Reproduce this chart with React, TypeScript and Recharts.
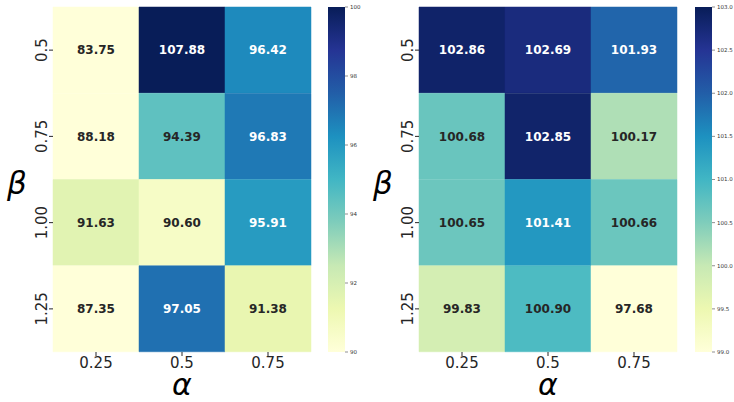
import { Bar, BarChart, Cell, LabelList, XAxis, YAxis } from 'recharts';

const ALPHAS = ['0.25', '0.5', '0.75'];
const BETAS = ['0.5', '0.75', '1.00', '1.25'];

// rows = beta, columns = alpha
const LEFT_VALUES = [
  [83.75, 107.88, 96.42],
  [88.18, 94.39, 96.83],
  [91.63, 90.6, 95.91],
  [87.35, 97.05, 91.38],
];
const RIGHT_VALUES = [
  [102.86, 102.69, 101.93],
  [100.68, 102.85, 100.17],
  [100.65, 101.41, 100.66],
  [99.83, 100.9, 97.68],
];

const LEFT_TICKS = [90, 92, 94, 96, 98, 100];
const RIGHT_TICKS = [99.0, 99.5, 100.0, 100.5, 101.0, 101.5, 102.0, 102.5, 103.0];

// matplotlib YlGnBu
const YLGNBU = ['#ffffd9', '#edf8b1', '#c7e9b4', '#7fcdbb', '#41b6c4', '#1d91c0', '#225ea8', '#253494', '#081d58'];

const FONT = '"DejaVu Sans", sans-serif';

function hexToRgb(h: string) {
  return [1, 3, 5].map((i) => parseInt(h.slice(i, i + 2), 16));
}

function colorAt(v: number, vmin: number, vmax: number) {
  const t = Math.min(1, Math.max(0, (v - vmin) / (vmax - vmin)));
  const pos = t * (YLGNBU.length - 1);
  const i = Math.min(YLGNBU.length - 2, Math.floor(pos));
  const f = pos - i;
  const a = hexToRgb(YLGNBU[i]);
  const b = hexToRgb(YLGNBU[i + 1]);
  const c = a.map((x, k) => Math.round(x + (b[k] - x) * f));
  return `rgb(${c[0]},${c[1]},${c[2]})`;
}

// same rule seaborn uses to pick annotation colour
function textColor(v: number, vmin: number, vmax: number) {
  const rgb = colorAt(v, vmin, vmax).match(/\d+/g)!.map(Number);
  const lin = rgb.map((c) => {
    const s = c / 255;
    return s <= 0.03928 ? s / 12.92 : Math.pow((s + 0.055) / 1.055, 2.4);
  });
  const lum = 0.2126 * lin[0] + 0.7152 * lin[1] + 0.0722 * lin[2];
  return lum > 0.408 ? '#262626' : '#ffffff';
}

function YTick(props: any) {
  const { x, y, payload } = props;
  return (
    <text
      x={x}
      y={y}
      transform={`rotate(-90 ${x} ${y})`}
      textAnchor="middle"
      fontSize={15}
      fontFamily={FONT}
      fill="#262626"
    >
      {payload.value}
    </text>
  );
}

type HeatProps = { values: number[][]; vmin: number; vmax: number };

function Heatmap({ values, vmin, vmax }: HeatProps) {
  const data = BETAS.map((beta, r) => ({
    beta,
    c0: 1,
    c1: 1,
    c2: 1,
    v0: values[r][0],
    v1: values[r][1],
    v2: values[r][2],
  }));

  const renderLabel = (p: any) => {
    const { x, y, width, height, value } = p;
    return (
      <text
        x={x + width / 2}
        y={y + height / 2}
        dy="0.36em"
        textAnchor="middle"
        fontSize={12}
        fontWeight="bold"
        fontFamily={FONT}
        fill={textColor(value, vmin, vmax)}
      >
        {value.toFixed(2)}
      </text>
    );
  };

  return (
    <BarChart
      width={320}
      height={402}
      data={data}
      layout="vertical"
      margin={{ top: 7, right: 9, bottom: 0, left: 0 }}
      barCategoryGap={0}
      barGap={0}
    >
      <XAxis
        type="number"
        domain={[0, 3]}
        ticks={[0.5, 1.5, 2.5]}
        tickFormatter={(v: number) => ALPHAS[Math.floor(v)]}
        height={50}
        axisLine={false}
        tickSize={4}
        tickMargin={1}
        tickLine={{ stroke: '#262626' }}
        tick={{ fontSize: 15, fontFamily: FONT, fill: '#262626' }}
        label={{
          content: (p: any) => {
            const vb = p.viewBox;
            return (
              <text x={vb.x + vb.width / 2} y={vb.y + 43} textAnchor="middle" fontSize={30} fontStyle="italic" fontFamily={FONT} fill="#000">
                α
              </text>
            );
          },
        }}
      />
      <YAxis
        type="category"
        dataKey="beta"
        width={53}
        axisLine={false}
        tickSize={4}
        tickMargin={2}
        tickLine={{ stroke: '#262626' }}
        tick={<YTick />}
        label={{
          content: (p: any) => {
            const vb = p.viewBox;
            return (
              <text x={vb.x + 17} y={vb.y + 187} textAnchor="middle" fontSize={31} fontStyle="italic" fontFamily={FONT} fill="#000">
                β
              </text>
            );
          },
        }}
      />
      {[0, 1, 2].map((c) => (
        <Bar key={c} dataKey={`c${c}`} stackId="a" isAnimationActive={false}>
          {values.map((row, r) => (
            <Cell key={r} fill={colorAt(row[c], vmin, vmax)} stroke={colorAt(row[c], vmin, vmax)} strokeWidth={0.5} />
          ))}
          <LabelList dataKey={`v${c}`} content={renderLabel} />
        </Bar>
      ))}
    </BarChart>
  );
}

type BarProps = { id: string; vmin: number; vmax: number; ticks: number[]; digits: number; width: number };

function Colorbar({ id, vmin, vmax, ticks, digits, width }: BarProps) {
  const data = [{ name: 'cb', range: [vmin, vmax] }];
  return (
    <BarChart width={width} height={402} data={data} margin={{ top: 7, right: 0, bottom: 50, left: 0 }} barCategoryGap={0}>
      <defs>
        <linearGradient id={id} x1="0" y1="1" x2="0" y2="0">
          {YLGNBU.map((c, i) => (
            <stop key={i} offset={i / (YLGNBU.length - 1)} stopColor={c} />
          ))}
        </linearGradient>
      </defs>
      <XAxis dataKey="name" hide />
      <YAxis
        orientation="right"
        type="number"
        domain={[vmin, vmax]}
        ticks={ticks}
        width={width - 17}
        axisLine={false}
        tickSize={3}
        tickMargin={2}
        tickLine={{ stroke: '#444', strokeWidth: 0.6 }}
        tickFormatter={(v: number) => v.toFixed(digits)}
        tick={{ fontSize: 5.5, fontFamily: FONT, fill: '#333' }}
      />
      <Bar dataKey="range" fill={`url(#${id})`} isAnimationActive={false} />
    </BarChart>
  );
}

export default function App() {
  return (
    <div style={{ position: 'absolute', left: 0, top: 0, width: 734, height: 402, background: '#fff' }}>
      <div style={{ position: 'absolute', left: 0, top: 0 }}>
        <Heatmap values={LEFT_VALUES} vmin={90} vmax={100} />
      </div>
      <div style={{ position: 'absolute', left: 328, top: 0 }}>
        <Colorbar id="cbLeft" vmin={90} vmax={100} ticks={LEFT_TICKS} digits={0} width={40} />
      </div>
      <div style={{ position: 'absolute', left: 366, top: 0 }}>
        <Heatmap values={RIGHT_VALUES} vmin={99} vmax={103} />
      </div>
      <div style={{ position: 'absolute', left: 695, top: 0 }}>
        <Colorbar id="cbRight" vmin={99} vmax={103} ticks={RIGHT_TICKS} digits={1} width={39} />
      </div>
    </div>
  );
}
